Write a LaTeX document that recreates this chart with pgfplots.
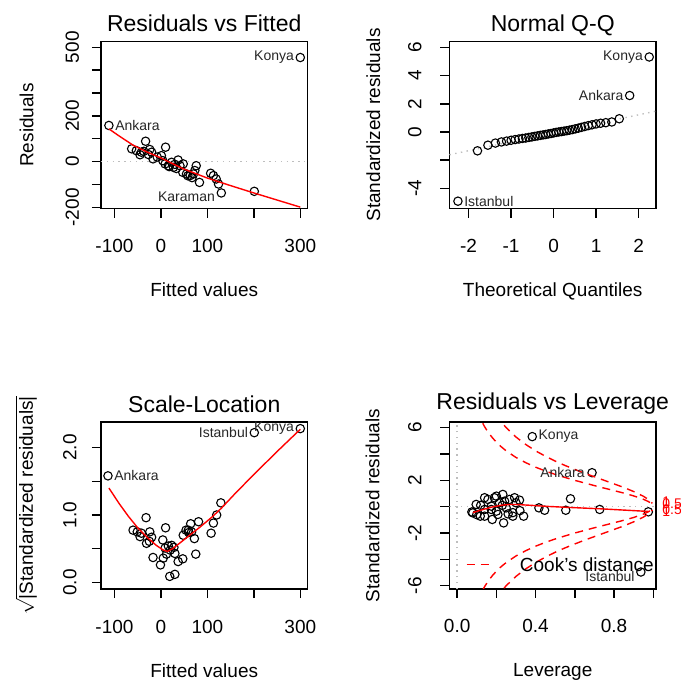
\documentclass[border=0pt]{standalone}
\usepackage{fontspec}
\setmainfont{Liberation Sans}
\usepackage{pgfplots}
\pgfplotsset{compat=1.18}
\definecolor{rgray}{HTML}{BEBEBE}

\tikzset{
  cook/.style={red, line width=0.7pt, dash pattern=on 4pt off 3pt},
  idlab/.style={font=\fontsize{7}{8}\selectfont, inner sep=0pt, text=black!85},
}
\pgfplotsset{
  rdiag/.style={
    scale only axis, width=103.25pt, height=83.5pt, anchor=south west,
    axis line style={line width=0.7pt},
    tick pos=left, tick align=outside, major tick length=4.5pt,
    every tick/.style={black, line width=0.7pt},
    clip mode=individual,
    every tick label/.append style={font=\fontsize{9.5}{11}\selectfont, inner sep=0pt},
    xticklabel style={anchor=base},
    yticklabel style={rotate=90, anchor=base},
    xticklabel shift=17.5pt,
    label style={font=\fontsize{9.5}{11}\selectfont, inner sep=0pt},
    xlabel style={at={(axis description cs:0.5,0)}, anchor=base, yshift=-44pt},
    ylabel style={anchor=base},
    title style={font=\fontsize{11.5}{13}\selectfont, at={(axis description cs:0.5,1)},
      anchor=base, yshift=-1pt, inner sep=0pt},
  },
  pts/.style={only marks, mark=o, mark size=2.1pt, mark options={line width=0.55pt, black}},
  loess/.style={red, line width=0.7pt, no marks},
  rdot/.style={rgray, line width=0.7pt, dash pattern=on 0.7pt off 2.2pt, no marks},
}

\begin{document}
\begin{tikzpicture}
\useasboundingbox (0,0) rectangle (340.5pt,341pt);

% ---------- Residuals vs Fitted ----------
\begin{axis}[rdiag, at={(50.5pt,236.75pt)},
  xmin=-129, xmax=315.5, ymin=-205, ymax=525,
  xtick={-100,0,100,200,300}, xticklabels={-100,0,100,,300},
  ytick={-200,-100,0,100,200,300,400,500}, yticklabels={-200,,0,,200,,,500},
  yticklabel shift=6.5pt,
  title={Residuals vs Fitted}, xlabel={Fitted values}, ylabel={Residuals},
  ylabel style={at={(axis description cs:-0.328,0.5)}}]
\addplot[rdot] coordinates {(-129,0) (315.5,0)};
\addplot[pts] coordinates {
 (-112,158) (300,455) (201,-130) (130,-137) (-63,56) (-53,48) (-42,41) (-33,89)
 (-24,53) (-20,41) (-27,31) (-17,12) (10,63) (1,26) (4,4) (9,-10) (16,-18)
 (23,-3) (27,-25) (37,7) (41,-18) (48,-10) (47,-47) (55,-54) (63,-61) (70,-54)
 (76,-18) (73,-39) (83,-91) (107,-51) (113,-61) (119,-76) (124,-98) (-45,30)
 (-37,45) (-8,20) (18,-22) (30,-12) (58,-62) (67,-70) (33,-30)
};
\addplot[loess] coordinates {
 (-112,143) (-90,112) (-60,72) (-30,42) (0,16) (30,-14) (50,-33) (100,-72)
 (150,-105) (200,-137) (250,-168) (300,-199)
};
\node[idlab, anchor=east, xshift=-3pt] at (axis cs:300,455) {Konya};
\node[idlab, anchor=west, xshift=3pt] at (axis cs:-112,158) {Ankara};
\node[idlab, anchor=east, xshift=-3pt, yshift=-2pt] at (axis cs:130,-137) {Karaman};
\end{axis}

% ---------- Normal Q-Q ----------
\begin{axis}[rdiag, at={(224.75pt,236.75pt)},
  xmin=-2.45, xmax=2.41, ymin=-5.44, ymax=6.43,
  xtick={-2,-1,0,1,2}, xticklabels={-2,-1,0,1,2},
  ytick={-4,-2,0,2,4,6}, yticklabels={-4,,0,2,4,6},
  yticklabel shift=9.5pt,
  title={Normal Q-Q}, xlabel={Theoretical Quantiles}, ylabel={Standardized residuals},
  ylabel style={at={(axis description cs:-0.336,0.5)}}]
\addplot[rdot] coordinates {(-2.45,-1.62) (2.41,1.48)};
\addplot[pts] coordinates {
 (-2.251,-4.92) (-1.791,-1.34) (-1.546,-0.94) (-1.370,-0.79) (-1.228,-0.71)
 (-1.107,-0.65) (-1.000,-0.59) (-0.905,-0.54) (-0.816,-0.50) (-0.733,-0.46)
 (-0.655,-0.43) (-0.582,-0.39) (-0.510,-0.35) (-0.442,-0.31) (-0.375,-0.28)
 (-0.311,-0.24) (-0.247,-0.21) (-0.185,-0.18) (-0.123,-0.14) (-0.061,-0.11)
 (0,-0.07) (0.061,-0.03) (0.123,0.00) (0.185,0.03) (0.247,0.06) (0.311,0.09)
 (0.375,0.13) (0.442,0.17) (0.510,0.22) (0.582,0.27) (0.655,0.33) (0.733,0.39)
 (0.816,0.45) (0.905,0.51) (1.000,0.57) (1.107,0.62) (1.228,0.66) (1.370,0.71)
 (1.546,0.94) (1.791,2.59) (2.251,5.33)
};
\node[idlab, anchor=east, xshift=-3pt] at (axis cs:2.251,5.33) {Konya};
\node[idlab, anchor=east, xshift=-3pt] at (axis cs:1.791,2.59) {Ankara};
\node[idlab, anchor=west, xshift=3pt] at (axis cs:-2.251,-4.92) {Istanbul};
\end{axis}

% ---------- Scale-Location ----------
\begin{axis}[rdiag, at={(50.5pt,46.5pt)},
  xmin=-129, xmax=315.5, ymin=-0.097, ymax=2.378,
  xtick={-100,0,100,200,300}, xticklabels={-100,0,100,,300},
  ytick={0,0.5,1,1.5,2}, yticklabels={0.0,,1.0,,2.0},
  yticklabel shift=7.8pt,
  title={Scale-Location}, xlabel={Fitted values},
  ylabel={$\sqrt{\mbox{\raisebox{0pt}[\height][0pt]{|Standardized residuals|}}}$},
  ylabel style={at={(axis description cs:-0.33,0.5)}}]
\addplot[pts] coordinates {
 (-60,0.775) (-51,0.75) (-42,0.73) (-32,0.96) (-24,0.75) (-31,0.58) (-25,0.61)
 (-17,0.37) (10,0.81) (4,0.63) (9,0.51) (16,0.54) (23,0.55) (12,0.42) (5,0.36)
 (-1,0.26) (30,0.43) (37,0.31) (47,0.35) (19,0.09) (30,0.12) (48,0.70) (54,0.775)
 (59,0.775) (64,0.87) (72,0.65) (81,0.90) (75,0.42) (66,0.75) (108,0.73)
 (113,0.88) (120,1.0) (129,1.18) (-114,1.58) (201,2.22) (300,2.28) (-45,0.68)
 (20,0.48) (28,0.52) (-20,0.67) (60,0.74)
};
\addplot[loess] coordinates {
 (-112,1.40) (-90,1.17) (-70,0.98) (-50,0.81) (-30,0.67) (-10,0.55) (5,0.48)
 (14,0.46) (25,0.50) (40,0.58) (60,0.69) (84,0.82) (110,0.97) (130,1.10)
 (160,1.32) (200,1.60) (250,1.94) (300,2.27)
};
\node[idlab, anchor=west, xshift=3pt] at (axis cs:-114,1.58) {Ankara};
\node[idlab, anchor=east, xshift=-3pt] at (axis cs:201,2.22) {Istanbul};
\node[idlab, anchor=east, xshift=-3pt] at (axis cs:300,2.28) {Konya};
\end{axis}

% ---------- Residuals vs Leverage ----------
\begin{axis}[rdiag, at={(224.75pt,46.5pt)},
  xmin=-0.039, xmax=1.014, ymin=-6.25, ymax=6.43,
  xtick={0,0.2,0.4,0.6,0.8,1.0}, xticklabels={0.0,,0.4,,0.8,},
  ytick={-6,-4,-2,0,2,4,6}, yticklabels={-6,,-2,,2,,6},
  yticklabel shift=9.5pt,
  title={Residuals vs Leverage}, title style={yshift=1pt},
  xlabel={Leverage}, ylabel={Standardized residuals},
  ylabel style={at={(axis description cs:-0.339,0.5)}}]
\addplot[rdot] coordinates {(-0.039,0) (1.014,0)};
\addplot[rdot] coordinates {(0,-6.25) (0,6.43)};
\addplot[pts] coordinates {
 (0.383,5.32) (0.688,2.58) (0.937,-4.96) (0.975,-0.39) (0.727,-0.21) (0.578,0.60)
 (0.554,-0.27) (0.446,-0.27) (0.417,-0.09) (0.080,-0.47) (0.097,0.17) (0.118,-0.72)
 (0.140,-0.21) (0.157,0.55) (0.174,0.04) (0.179,-0.97) (0.190,0.68) (0.200,-0.34)
 (0.216,0.30) (0.233,0.93) (0.237,-1.23) (0.250,-0.09) (0.267,0.55) (0.284,-0.72)
 (0.300,0.30) (0.318,0.50) (0.339,-0.72) (0.075,-0.40) (0.140,0.68) (0.200,0.80)
 (0.242,0.42) (0.293,0.68) (0.140,-0.72) (0.208,-0.59) (0.284,-0.45) (0.320,-0.30)
 (0.260,-0.55) (0.174,-0.21) (0.100,-0.60) (0.120,0.10) (0.230,0.10)
};
\addplot[loess] coordinates {
 (0.08,-0.45) (0.13,-0.22) (0.18,-0.02) (0.23,0.12) (0.27,0.17) (0.31,0.16)
 (0.38,0.10) (0.45,0.03) (0.56,-0.05) (0.73,-0.16) (0.975,-0.36)
};
% Cook's distance contours, 0.5 and 1
\addplot[cook, no marks] coordinates {
 (0.08,8.31) (0.10,7.35) (0.12,6.63) (0.14,6.07) (0.16,5.61) (0.18,5.23) (0.20,4.90)
 (0.22,4.61) (0.25,4.24) (0.30,3.74) (0.35,3.34) (0.40,3.00) (0.45,2.71) (0.50,2.45)
 (0.55,2.22) (0.60,2.00) (0.65,1.80) (0.70,1.60) (0.75,1.41) (0.80,1.22) (0.85,1.03)
 (0.90,0.82) (0.95,0.56) (0.975,0.39) (0.99,0.25) (0.995,0.17)
};
\addplot[cook, no marks] coordinates {
 (0.08,-8.31) (0.10,-7.35) (0.12,-6.63) (0.14,-6.07) (0.16,-5.61) (0.18,-5.23) (0.20,-4.90)
 (0.22,-4.61) (0.25,-4.24) (0.30,-3.74) (0.35,-3.34) (0.40,-3.00) (0.45,-2.71) (0.50,-2.45)
 (0.55,-2.22) (0.60,-2.00) (0.65,-1.80) (0.70,-1.60) (0.75,-1.41) (0.80,-1.22) (0.85,-1.03)
 (0.90,-0.82) (0.95,-0.56) (0.975,-0.39) (0.99,-0.25) (0.995,-0.17)
};
\addplot[cook, no marks] coordinates {
 (0.16,7.94) (0.18,7.39) (0.20,6.93) (0.22,6.52) (0.25,6.00) (0.30,5.29) (0.35,4.72)
 (0.40,4.24) (0.45,3.83) (0.50,3.46) (0.55,3.13) (0.60,2.83) (0.65,2.54) (0.70,2.27)
 (0.75,2.00) (0.80,1.73) (0.85,1.46) (0.90,1.15) (0.95,0.79) (0.975,0.55) (0.99,0.35)
 (0.995,0.25)
};
\addplot[cook, no marks] coordinates {
 (0.16,-7.94) (0.18,-7.39) (0.20,-6.93) (0.22,-6.52) (0.25,-6.00) (0.30,-5.29) (0.35,-4.72)
 (0.40,-4.24) (0.45,-3.83) (0.50,-3.46) (0.55,-3.13) (0.60,-2.83) (0.65,-2.54) (0.70,-2.27)
 (0.75,-2.00) (0.80,-1.73) (0.85,-1.46) (0.90,-1.15) (0.95,-0.79) (0.975,-0.55) (0.99,-0.35)
 (0.995,-0.25)
};
% legend
\draw[cook] (axis cs:0.048,-4.4) -- (axis cs:0.182,-4.4);
\node[anchor=west, inner sep=0pt, font=\fontsize{9.5}{11}\selectfont] at (axis cs:0.318,-4.4) {Cook's distance};
% contour levels on the right margin
\begin{scope}[every node/.style={anchor=west, inner sep=0pt, text=red, font=\fontsize{7}{8}\selectfont, xshift=3pt}]
\node at (axis cs:1.014,0.348) {1};
\node at (axis cs:1.014,0.246) {0.5};
\node at (axis cs:1.014,-0.246) {0.5};
\node at (axis cs:1.014,-0.348) {1};
\end{scope}
\node[idlab, anchor=west, xshift=3pt] at (axis cs:0.383,5.32) {Konya};
\node[idlab, anchor=east, xshift=-3.5pt] at (axis cs:0.688,2.58) {Ankara};
\node[idlab, anchor=east, xshift=-3pt, yshift=-2.2pt] at (axis cs:0.937,-4.96) {Istanbul};
\end{axis}
\end{tikzpicture}
\end{document}
